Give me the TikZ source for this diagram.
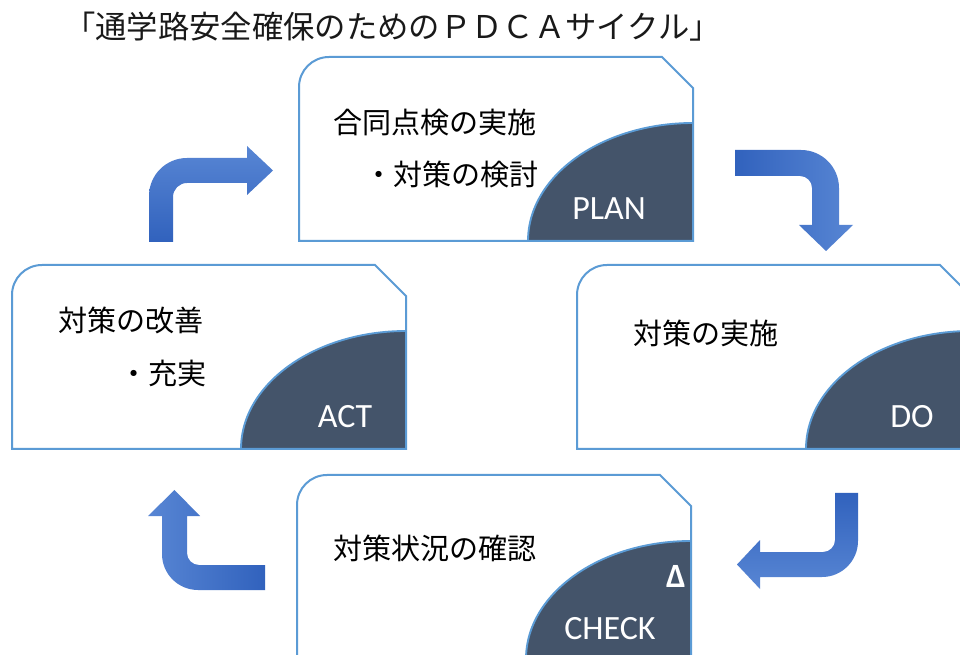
\documentclass[tikz,border=0pt]{standalone}
\usepackage{fontspec}
\newfontfamily\jpfont{Noto Sans CJK JP}
\newfontfamily\latfont{Carlito}
\definecolor{boxblue}{HTML}{5B9BD5}
\definecolor{slate}{HTML}{44546A}
\definecolor{arrdark}{HTML}{3162BD}
\definecolor{arrlight}{HTML}{5886D4}
\newcommand\pdcabox[2]{%
  \begin{scope}[shift={(#1,#2)}]
    \fill[white] (0,184) -- (0,30) arc[start angle=180,end angle=90,radius=22.5pt] -- (363,0) -- (394,31) -- (394,184) -- cycle;
    \filldraw[darkpart] (229,184) arc[start angle=180,end angle=90,x radius=123.75pt,y radius=88.5pt] -- (394,184) -- cycle;
    \draw[boxline] (0,184) -- (0,30) arc[start angle=180,end angle=90,radius=22.5pt] -- (363,0) -- (394,31) -- (394,184) -- cycle;
  \end{scope}}
\begin{document}
\begin{tikzpicture}[x=0.75pt,y=-0.75pt,
  boxline/.style={draw=boxblue,line width=1.5pt},
  darkpart/.style={fill=slate,draw=boxblue,line width=1.4pt},
  jptext/.style={font=\jpfont\fontsize{21.8pt}{26pt}\selectfont,anchor=west,inner sep=0pt,text=black},
  titletext/.style={font=\jpfont\fontsize{23.5pt}{28pt}\selectfont,inner sep=0pt,text=black!90},
  labeltext/.style={font=\latfont\fontsize{25.5pt}{30pt}\selectfont,text=white,inner sep=0pt},
  arrowshape/.style={draw=none}]
\useasboundingbox (0,0) rectangle (960,655);
\clip (0,0) rectangle (960,655);
\fill[white] (0,0) rectangle (960,655);

% title
\node[titletext] (title) at (392.5,27) {「通学路安全確保のためのＰＤＣＡサイクル」};

% boxes
\pdcabox{299}{57}
\pdcabox{12}{265}
\pdcabox{577}{265}
\pdcabox{297}{475}

% PLAN
\node[jptext] (plan1) at (333,123) {合同点検の実施};
\node[jptext] (plan2) at (364,174) {・対策の検討};
\node[labeltext] (planlab) at (609,208.5) {PLAN};

% ACT
\node[jptext] (act1) at (58,320) {対策の改善};
\node[jptext] (act2) at (119,373) {・充実};
\node[labeltext] (actlab) at (345,416.5) {ACT};

% DO
\node[jptext] (do1) at (633,333) {対策の実施};
\node[labeltext] (dolab) at (912,416.5) {DO};

% CHECK
\node[jptext] (check1) at (333,548) {対策状況の確認};
\node[labeltext,font=\latfont\bfseries\fontsize{25.5pt}{30pt}\selectfont] (delta) at (676,576) {Δ};
\node[labeltext] (checklab) at (610,629) {CHECK};

% arrow ACT -> PLAN (up then right)
\shade[arrowshape,top color=arrlight,bottom color=arrdark]
  (149,242) -- (149,196) arc[start angle=180,end angle=90,radius=28.5pt]
  -- (247,158) -- (247,146) -- (273,170.5) -- (247,195) -- (247,183)
  -- (187,183) arc[start angle=90,end angle=180,radius=10.5pt]
  -- (173,242) -- cycle;

% arrow PLAN -> DO (right then down)
\shade[arrowshape,left color=arrdark,right color=arrlight]
  (735,150) -- (801,150) arc[start angle=90,end angle=0,radius=28.5pt]
  -- (839,225) -- (853,225) -- (826,251) -- (799,225) -- (812,225)
  -- (812,188) arc[start angle=0,end angle=90,radius=9pt]
  -- (735,176) -- cycle;

% arrow DO -> CHECK (down then left)
\shade[arrowshape,top color=arrdark,bottom color=arrlight]
  (835,493) -- (858,493) -- (858,541) arc[start angle=0,end angle=-90,radius=27pt]
  -- (760,577) -- (760,589) -- (737,564.5) -- (760,540) -- (760,552)
  -- (823,552) arc[start angle=-90,end angle=0,radius=9pt]
  -- cycle;

% arrow CHECK -> ACT (left then up)
\shade[arrowshape,left color=arrlight,right color=arrdark]
  (265,565) -- (199,565) arc[start angle=-90,end angle=-180,radius=9pt]
  -- (187,516) -- (200,516) -- (174.5,490) -- (148,516) -- (162,516)
  -- (162,554) arc[start angle=180,end angle=270,radius=27pt]
  -- (265,590) -- cycle;
\end{tikzpicture}
\end{document}
